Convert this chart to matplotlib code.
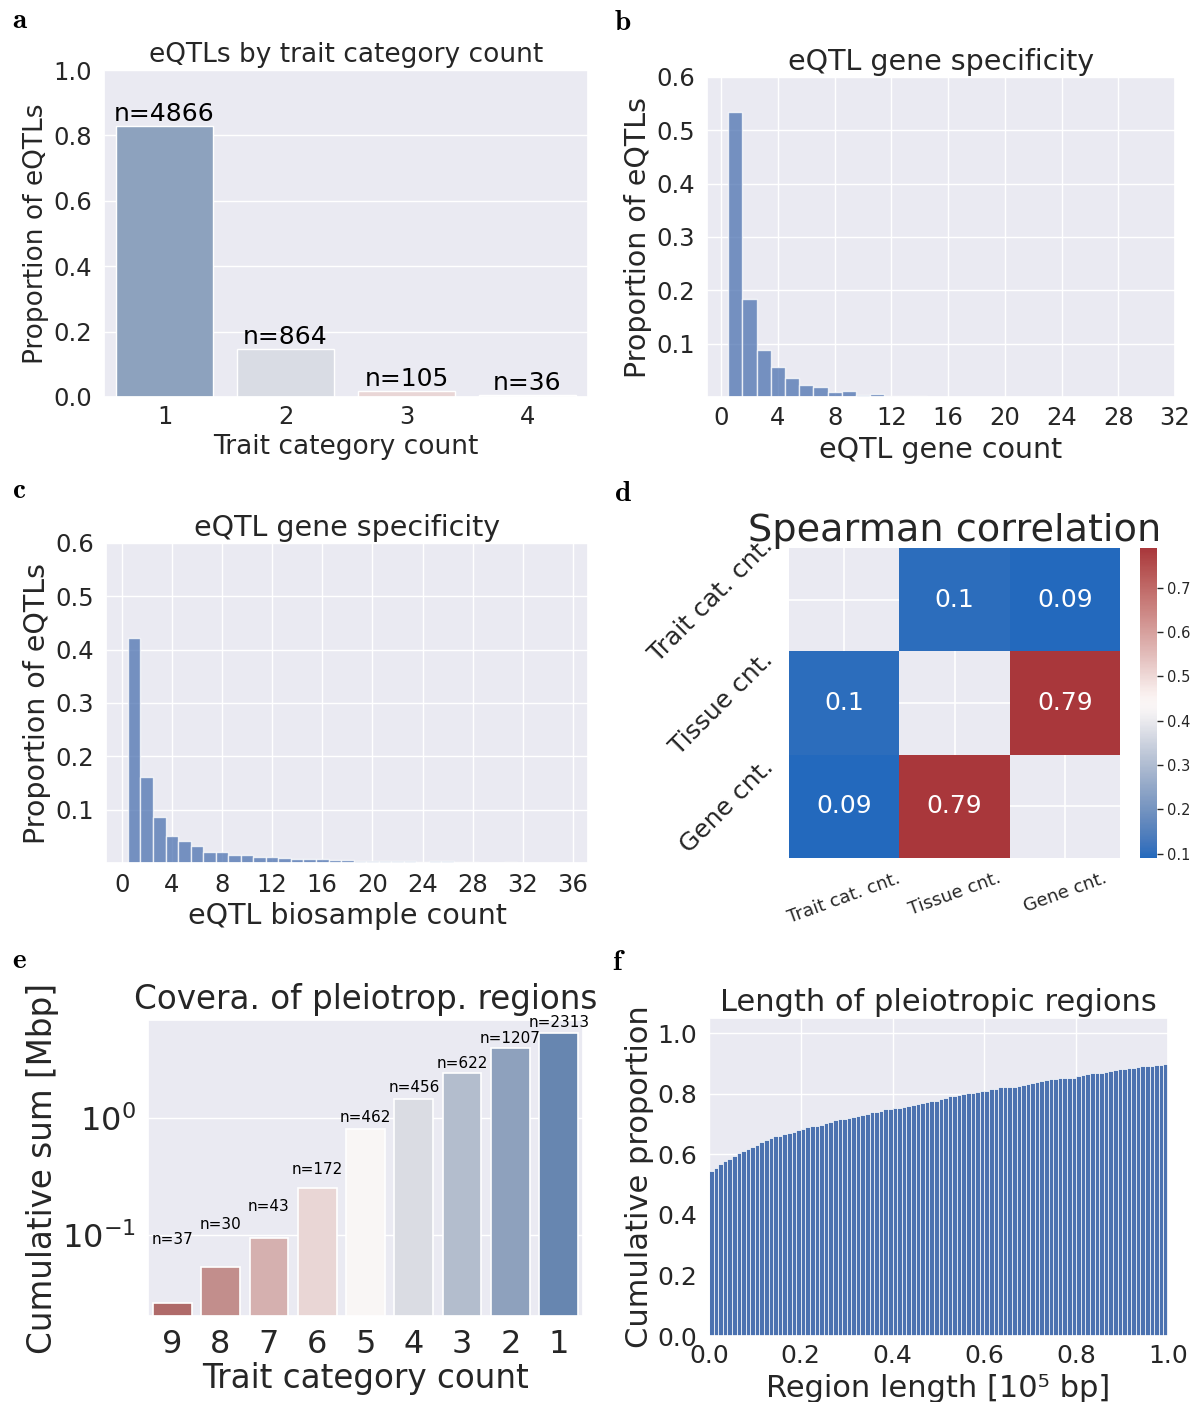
import numpy as np
import matplotlib
matplotlib.use('Agg')
import matplotlib.pyplot as plt
import seaborn as sns
import pandas as pd

sns.set_theme(style='darkgrid')
plt.rcParams['font.family'] = ['DejaVu Sans']
plt.rcParams['xtick.bottom'] = False
plt.rcParams['ytick.left'] = False

# ---------------- data ----------------
# a
a_categories = ['1', '2', '3', '4']
a_proportions = [0.829, 0.147, 0.018, 0.006]
a_labels = ['n=4866', 'n=864', 'n=105', 'n=36']
a_colors = ['#8DA2BE', '#D9DCE4', '#E9D6D6', '#F3F0F1']

# b
b_gene_count = list(range(1, 24))
b_proportion = [0.534, 0.184, 0.0876, 0.0559, 0.0348, 0.0217, 0.0186, 0.0099,
                0.0112, 0.0037, 0.0062, 0.0019, 0.0019, 0.0019, 0.0005, 0.0005,
                0.0, 0.0005, 0.0005, 0.0005, 0.0005, 0.0005, 0.0005]
b_xticks = [0, 4, 8, 12, 16, 20, 24, 28, 32]
b_yticks = [0.1, 0.2, 0.3, 0.4, 0.5, 0.6]

# c
c_biosample_count = list(range(1, 37))
c_proportion = [0.422, 0.161, 0.0856, 0.050, 0.042, 0.031, 0.020, 0.0206,
                0.015, 0.0144, 0.0106, 0.0112, 0.0087, 0.0075, 0.0069, 0.0069,
                0.005, 0.005, 0.0044, 0.0044, 0.0031, 0.0044, 0.0037, 0.0012,
                0.0031, 0.0031, 0.0019, 0.0012, 0.0006, 0.0003, 0.0019, 0.0003,
                0.0002, 0.0002, 0.0, 0.0002]
c_xticks = [0, 4, 8, 12, 16, 20, 24, 28, 32, 36]

# d
d_labels = ['Trait cat. cnt.', 'Tissue cnt.', 'Gene cnt.']
d_corr = [[np.nan, 0.10, 0.09],
          [0.10, np.nan, 0.79],
          [0.09, 0.79, np.nan]]

# e
e_categories = ['9', '8', '7', '6', '5', '4', '3', '2', '1']
e_cumsum_mbp = [0.026, 0.0527, 0.0942, 0.252, 0.804, 1.476, 2.44, 4.02, 5.45]
e_labels = ['n=37', 'n=30', 'n=43', 'n=172', 'n=462', 'n=456', 'n=622',
            'n=1207', 'n=2313']

# f
f_cum_proportion = [
    0.544, 0.555, 0.568, 0.578, 0.585, 0.595, 0.604, 0.612, 0.619, 0.624,
    0.631, 0.639, 0.648, 0.655, 0.659, 0.661, 0.666, 0.671, 0.675, 0.681,
    0.684, 0.690, 0.693, 0.694, 0.697, 0.702, 0.706, 0.713, 0.716, 0.718,
    0.720, 0.722, 0.727, 0.729, 0.732, 0.738, 0.741, 0.743, 0.748, 0.751,
    0.752, 0.752, 0.755, 0.760, 0.762, 0.767, 0.770, 0.773, 0.775, 0.777,
    0.781, 0.786, 0.791, 0.793, 0.796, 0.798, 0.801, 0.803, 0.805, 0.808,
    0.810, 0.814, 0.817, 0.821, 0.821, 0.821, 0.822, 0.824, 0.828, 0.832,
    0.834, 0.838, 0.842, 0.844, 0.847, 0.847, 0.851, 0.852, 0.853, 0.853,
    0.858, 0.861, 0.864, 0.867, 0.870, 0.870, 0.871, 0.875, 0.879, 0.880,
    0.880, 0.885, 0.885, 0.889, 0.890, 0.890, 0.893, 0.895, 0.895, 0.897]
f_bin_width = 0.01
f_bin_left = np.arange(len(f_cum_proportion)) * f_bin_width

# ---------------- layout ----------------
W, H = 1201, 1402
fig = plt.figure(figsize=(W / 100, H / 100), dpi=100)
fig.patch.set_facecolor('white')
TXT = '#262626'


def add_ax(l, t, r, b):
    return fig.add_axes([l / W, 1 - b / H, (r - l) / W, (b - t) / H])


def letter(x, y, s):
    fig.text(x / W, 1 - y / H, r'$\mathbf{%s}$' % s, fontsize=21,
             math_fontfamily='cm', ha='left', va='center', color='black')


def style_ticks(ax, size, xpad, ypad):
    ax.tick_params(axis='x', which='both', length=0, labelsize=size,
                   colors=TXT, pad=xpad)
    ax.tick_params(axis='y', which='both', length=0, labelsize=size,
                   colors=TXT, pad=ypad)


# ---------------- a ----------------
ax = add_ax(104, 70, 588, 397)
xa = np.arange(len(a_categories))
ax.bar(xa, a_proportions, width=0.8, color=a_colors, edgecolor='white',
       linewidth=1)
for x, h, s in zip(xa, a_proportions, a_labels):
    ax.text(x, h, s, ha='center', va='bottom', fontsize=18, color='black')
ax.set_xlim(-0.5, 3.5)
ax.set_ylim(0, 1.0)
ax.set_xticks(xa)
ax.set_xticklabels(a_categories)
ax.set_yticks([0, 0.2, 0.4, 0.6, 0.8, 1.0])
ax.xaxis.grid(False)
style_ticks(ax, 17.5, 6, 8.6)
ax.set_title('eQTLs by trait category count', fontsize=19, color=TXT, pad=6)
ax.set_xlabel('Trait category count', fontsize=19, color=TXT, labelpad=3.5)
ax.set_ylabel('Proportion of eQTLs', fontsize=19, color=TXT, labelpad=3)
letter(12, 20, 'a')

# ---------------- b ----------------
ax = add_ax(707, 77, 1175, 397)
ax.bar(b_gene_count, b_proportion, width=1.0, color='#4C72B0', alpha=0.75,
       edgecolor='white', linewidth=1)
ax.set_xlim(-1.0, 32.0)
ax.set_ylim(0, 0.6)
ax.set_xticks(b_xticks)
ax.set_yticks(b_yticks)
style_ticks(ax, 17.5, 6.5, 8.6)
ax.set_title('eQTL gene specificity', fontsize=20.5, color=TXT, pad=5)
ax.set_xlabel('eQTL gene count', fontsize=20.5, color=TXT, labelpad=4)
ax.set_ylabel('Proportion of eQTLs', fontsize=20.5, color=TXT, labelpad=3)
letter(614, 22, 'b')

# ---------------- c ----------------
ax = add_ax(106, 543, 588, 863)
ax.bar(c_biosample_count, c_proportion, width=1.0, color='#4C72B0',
       alpha=0.75, edgecolor='white', linewidth=1)
ax.set_xlim(-1.25, 37.2)
ax.set_ylim(0, 0.6)
ax.set_xticks(c_xticks)
ax.set_yticks(b_yticks)
style_ticks(ax, 17.5, 7, 8.6)
ax.set_title('eQTL gene specificity', fontsize=20.5, color=TXT, pad=5)
ax.set_xlabel('eQTL biosample count', fontsize=20.5, color=TXT,
              labelpad=3.5)
ax.set_ylabel('Proportion of eQTLs', fontsize=20.5, color=TXT, labelpad=3)
letter(12, 490, 'c')

# ---------------- d ----------------
ax = add_ax(789, 548, 1120, 858)
cax = add_ax(1140, 548, 1157, 858)
df = pd.DataFrame(d_corr, index=d_labels, columns=d_labels)
sns.heatmap(df, annot=True, fmt='.2g', cmap='vlag', ax=ax, cbar_ax=cax,
            annot_kws={'size': 18})
ax.grid(True, color='white', linewidth=1.2)
ax.set_axisbelow(True)
ax.set_yticklabels(d_labels, rotation=45, fontsize=18, color=TXT,
                   va='center')
ax.set_xticklabels(d_labels, rotation=20, fontsize=13, color=TXT)
ax.tick_params(axis='both', length=0, pad=8)
ax.set_title('Spearman correlation', fontsize=27.5, color=TXT, pad=5)
cax.tick_params(labelsize=10.5, colors=TXT, right=True, length=4, width=1)
letter(614, 493, 'd')

# ---------------- e ----------------
ax = add_ax(148, 1020, 583, 1316)
pal = [sns.desaturate(c, 0.75) for c in sns.color_palette('vlag_r', 9)]
xe = np.arange(len(e_categories))
ax.bar(xe, e_cumsum_mbp, width=0.8, color=pal, edgecolor='white',
       linewidth=1.2)
ax.set_yscale('log')
ax.set_ylim(0.02, 7.0)
ax.set_xlim(-0.5, 8.5)
for x, h, s in zip(xe, e_cumsum_mbp, e_labels):
    ax.text(x, h * 1.2 + 0.06, s, ha='center', va='center', fontsize=11,
            color='black')
ax.set_xticks(xe)
ax.set_xticklabels(e_categories)
ax.xaxis.grid(False)
ax.yaxis.grid(True, which='major')
ax.yaxis.grid(False, which='minor')
style_ticks(ax, 23, 9.5, 8.6)
ax.set_title('Covera. of pleiotrop. regions', fontsize=23.5, color=TXT, pad=8)
ax.set_xlabel('Trait category count', fontsize=23.5, color=TXT, labelpad=1.5)
ax.set_ylabel('Cumulative sum [Mbp]', fontsize=23.5, color=TXT, labelpad=2.5)
letter(12, 960, 'e')

# ---------------- f ----------------
ax = add_ax(709, 1018, 1168, 1336)
ax.bar(f_bin_left, f_cum_proportion, width=f_bin_width, align='edge',
       color='#4C72B0', edgecolor='white', linewidth=0.5)
ax.set_xlim(0, 1.0)
ax.set_ylim(0, 1.05)
ax.set_xticks([0, 0.2, 0.4, 0.6, 0.8, 1.0])
ax.set_yticks([0, 0.2, 0.4, 0.6, 0.8, 1.0])
style_ticks(ax, 18, 5.8, 8.6)
ax.set_title('Length of pleiotropic regions', fontsize=22, color=TXT, pad=5)
ax.set_xlabel('Region length [10\u2075 bp]', fontsize=22, color=TXT,
              labelpad=4)
ax.set_ylabel('Cumulative proportion', fontsize=22, color=TXT, labelpad=2)
letter(612, 962, 'f')

fig.savefig('out.png', dpi=100, facecolor='white')
